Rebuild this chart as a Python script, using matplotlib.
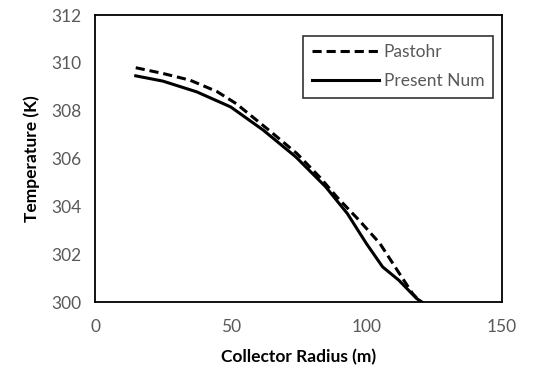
import matplotlib

matplotlib.use("Agg")

import matplotlib.pyplot as plt

# Pastohr (dashed) and present numerical (solid) temperature profiles
pastohr_r = [15, 25, 35, 45, 52, 64.5, 74.5, 83, 89.5, 97.5, 105, 111, 117, 120]
pastohr_t = [309.8, 309.56, 309.28, 308.8, 308.3, 307.15, 306.2, 305.2,
             304.35, 303.4, 302.45, 301.4, 300.36, 300.0]

present_r = [15, 25, 37.5, 50, 62, 74, 85, 93, 100, 106, 112, 118.5, 120.5]
present_t = [309.46, 309.24, 308.79, 308.16, 307.19, 306.07, 304.82, 303.70,
             302.45, 301.47, 300.91, 300.15, 300.0]

x_ticks = [0, 50, 100, 150]
y_ticks = [300, 302, 304, 306, 308, 310, 312]

plt.rcParams["font.family"] = ["Lato", "DejaVu Sans"]

fig = plt.figure(figsize=(5.34, 3.78), dpi=100)
ax = fig.add_axes([0.178, 0.201, 0.762, 0.759])

ax.plot(pastohr_r, pastohr_t, color="black", lw=2.2,
        linestyle=(0, (3, 1.6)), label="Pastohr")
ax.plot(present_r, present_t, color="black", lw=2.2, label="Present Num")

ax.set_xlim(0, 150)
ax.set_ylim(300, 312)
ax.set_xticks(x_ticks)
ax.set_yticks(y_ticks)
ax.tick_params(length=0, labelsize=12.5, labelcolor="#595959", pad=10)
ax.tick_params(axis="x", pad=12)

for spine in ax.spines.values():
    spine.set_color("black")
    spine.set_linewidth(1.3)

ax.set_xlabel("Collector Radius (m)", fontsize=12.5, fontweight="bold", labelpad=10)
ax.set_ylabel("Temperature (K)", fontsize=12.5, fontweight="bold", labelpad=8)

leg = ax.legend(loc="upper right", bbox_to_anchor=(0.978, 0.928), fontsize=12.5,
                frameon=True, fancybox=False, edgecolor="black", handlelength=3.9,
                handletextpad=0.25, borderpad=0.5, labelspacing=0.75,
                borderaxespad=0)
leg.get_frame().set_linewidth(1.2)
for text in leg.get_texts():
    text.set_color("#595959")

fig.savefig("out.png", dpi=100)
